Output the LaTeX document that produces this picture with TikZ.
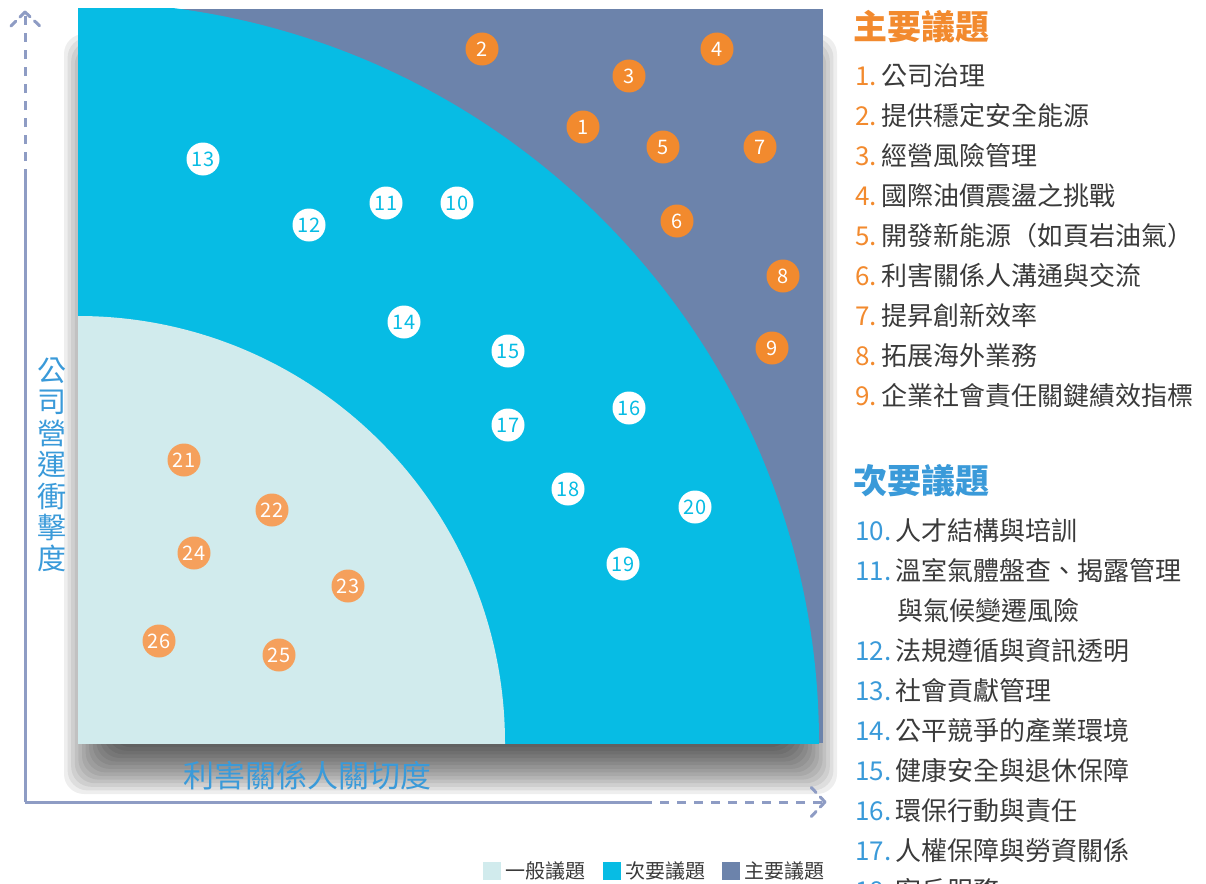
\documentclass[tikz,border=0pt]{standalone}
\usepackage{fontspec}
\setmainfont{Noto Sans CJK TC}
\definecolor{slate}{HTML}{6C83AB}
\definecolor{cyanz}{HTML}{07BCE4}
\definecolor{lightz}{HTML}{D1EBED}
\definecolor{orng}{HTML}{F28A2E}
\definecolor{lorng}{HTML}{F5A05C}
\definecolor{blu}{HTML}{3A9AD9}
\definecolor{axisc}{HTML}{8E9CC4}
\definecolor{txt}{HTML}{3A3A3A}
\begin{document}
\begin{tikzpicture}[x=1pt,y=-1pt,
  mainpt/.style={circle, fill=orng, text=white, minimum size=33pt, inner sep=0pt, font=\fontsize{20}{20}\selectfont},
  secpt/.style={circle, fill=white, text=cyanz, minimum size=33pt, inner sep=0pt, font=\fontsize{20}{20}\selectfont},
  genpt/.style={circle, fill=lorng, text=white, minimum size=33pt, inner sep=0pt, font=\fontsize{20}{20}\selectfont},
  axsolid/.style={draw=axisc, line width=3pt},
  axdash/.style={draw=axisc, line width=3pt, dash pattern=on 9pt off 8pt},
  axhead/.style={draw=axisc, line width=3pt, line cap=round, dash pattern=on 7pt off 6pt},
  listitem/.style={anchor=base west, inner sep=0pt, text=txt, font=\fontsize{26}{26}\selectfont},
  listtitle/.style={anchor=base west, inner sep=0pt, font=\fontsize{34}{34}\selectfont\bfseries},
  legbox/.style={minimum size=18pt, inner sep=0pt, anchor=north west},
  legtext/.style={anchor=base west, inner sep=0pt, text=txt, font=\fontsize{20}{20}\selectfont},
  axlabel/.style={text=blu, inner sep=0pt},
  shadowlayer/.style={fill=black, opacity=0.065, rounded corners=20pt}
]
\useasboundingbox (0,0) rectangle (1206,883);

% soft drop shadow (layered)
\foreach \k in {0,...,14} {
  \pgfmathsetmacro{\e}{26-3.6*\k}
  \path[shadowlayer] (90-\e,60-\e) rectangle (811+\e,768+\e);
}

% matrix square
\fill[slate] (78,9) rectangle (823,743);
\begin{scope}
  \clip (78,9) rectangle (823,743);
  \fill[cyanz] (78,743) circle[radius=741pt];
  \fill[lightz] (78,743) circle[radius=427pt];
\end{scope}

% axes
\coordinate (O) at (25,802);
\coordinate (ybreak) at (25,178);
\coordinate (ytip) at (25,12);
\coordinate (yl) at (9,28);
\coordinate (yr) at (42,28);
\coordinate (xbreak) at (643,802);
\coordinate (xtip) at (825,802);
\coordinate (xu) at (809,785);
\coordinate (xd) at (809,819);
\draw[axsolid] (O) -- (ybreak);
\draw[axdash] (ybreak) -- (ytip);
\draw[axhead] (ytip) -- (yl);
\draw[axhead] (ytip) -- (yr);
\draw[axsolid] (O) -- (xbreak);
\draw[axdash] (xbreak) -- (xtip);
\draw[axhead] (xtip) -- (xu);
\draw[axhead] (xtip) -- (xd);

\node[axlabel, align=center, font=\fontsize{29}{31.4}\selectfont] (ylab) at (52,465) {公\\司\\營\\運\\衝\\擊\\度};
\node[axlabel, font=\fontsize{31}{31}\selectfont] (xlab) at (307,775) {利害關係人關切度};

% points
\node[mainpt] (p1) at (583,127) {1};
\node[mainpt] (p2) at (482,49) {2};
\node[mainpt] (p3) at (629,76) {3};
\node[mainpt] (p4) at (717,49) {4};
\node[mainpt] (p5) at (663,147) {5};
\node[mainpt] (p6) at (677,221) {6};
\node[mainpt] (p7) at (760,147) {7};
\node[mainpt] (p8) at (783,276) {8};
\node[mainpt] (p9) at (772,348) {9};
\node[secpt] (p10) at (457,203) {10};
\node[secpt] (p11) at (386,203) {11};
\node[secpt] (p12) at (309,225) {12};
\node[secpt] (p13) at (203,159) {13};
\node[secpt] (p14) at (404,322) {14};
\node[secpt] (p15) at (508,351) {15};
\node[secpt] (p16) at (629,408) {16};
\node[secpt] (p17) at (508,425) {17};
\node[secpt] (p18) at (568,489) {18};
\node[secpt] (p19) at (623,564) {19};
\node[secpt] (p20) at (695,507) {20};
\node[genpt] (p21) at (184,460) {21};
\node[genpt] (p22) at (272,510) {22};
\node[genpt] (p23) at (348,586) {23};
\node[genpt] (p24) at (194,553) {24};
\node[genpt] (p25) at (279,655) {25};
\node[genpt] (p26) at (159,641) {26};

% right list: main issues
\node[listtitle, text=orng] (t1) at (853,40) {主要議題};
\node[listitem] (i1) at (855,85) {\textcolor{orng}{1.}\,公司治理};
\node[listitem] (i2) at (855,125) {\textcolor{orng}{2.}\,提供穩定安全能源};
\node[listitem] (i3) at (855,165) {\textcolor{orng}{3.}\,經營風險管理};
\node[listitem] (i4) at (855,205) {\textcolor{orng}{4.}\,國際油價震盪之挑戰};
\node[listitem] (i5) at (855,245) {\textcolor{orng}{5.}\,開發新能源（如頁岩油氣）};
\node[listitem] (i6) at (855,285) {\textcolor{orng}{6.}\,利害關係人溝通與交流};
\node[listitem] (i7) at (855,325) {\textcolor{orng}{7.}\,提昇創新效率};
\node[listitem] (i8) at (855,365) {\textcolor{orng}{8.}\,拓展海外業務};
\node[listitem] (i9) at (855,405) {\textcolor{orng}{9.}\,企業社會責任關鍵績效指標};

% secondary issues
\node[listtitle, text=blu] (t2) at (853,493) {次要議題};
\node[listitem] (i10) at (855,540) {\textcolor{blu}{10.}\,人才結構與培訓};
\node[listitem] (i11) at (855,580) {\textcolor{blu}{11.}\,溫室氣體盤查、揭露管理};
\node[listitem] (i11b) at (897,620) {與氣候變遷風險};
\node[listitem] (i12) at (855,660) {\textcolor{blu}{12.}\,法規遵循與資訊透明};
\node[listitem] (i13) at (855,700) {\textcolor{blu}{13.}\,社會貢獻管理};
\node[listitem] (i14) at (855,740) {\textcolor{blu}{14.}\,公平競爭的產業環境};
\node[listitem] (i15) at (855,780) {\textcolor{blu}{15.}\,健康安全與退休保障};
\node[listitem] (i16) at (855,820) {\textcolor{blu}{16.}\,環保行動與責任};
\node[listitem] (i17) at (855,860) {\textcolor{blu}{17.}\,人權保障與勞資關係};
\node[listitem] (i18) at (855,900) {\textcolor{blu}{18.}\,客戶服務};

% legend
\node[legbox, fill=lightz] (lg1) at (483,862) {};
\node[legtext] (lt1) at (505,878) {一般議題};
\node[legbox, fill=cyanz] (lg2) at (603,862) {};
\node[legtext] (lt2) at (625,878) {次要議題};
\node[legbox, fill=slate] (lg3) at (722,862) {};
\node[legtext] (lt3) at (744,878) {主要議題};
\end{tikzpicture}
\end{document}
